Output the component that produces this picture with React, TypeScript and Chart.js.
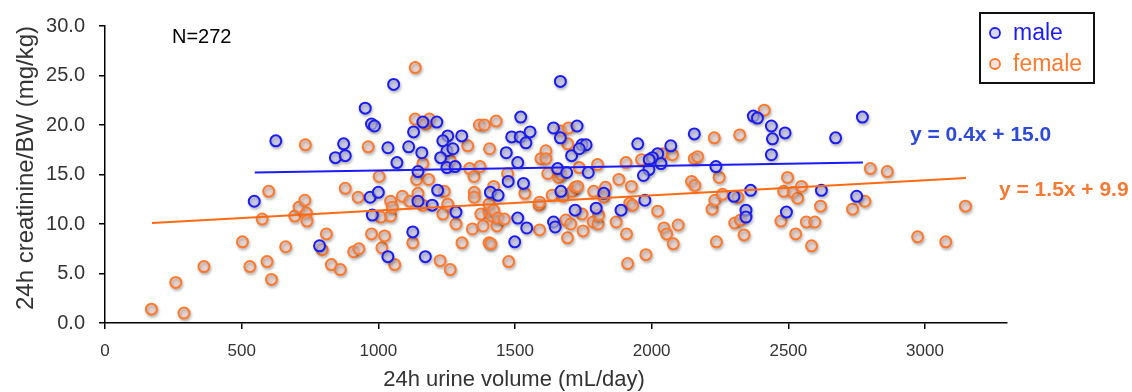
import React, { useEffect, useRef } from "react";
import { Chart, registerables } from "chart.js";

Chart.register(...registerables);

const maleX = [625, 873, 843, 879, 952, 975, 986, 1056, 1666, 1163, 1214, 1129, 1035, 1111, 1159, 1068, 1145, 1254, 1236, 1305, 1251, 1273, 1228, 1251, 1281, 1521, 1468, 1488, 1519, 1555, 1540, 1510, 1641, 1666, 1727, 1707, 1745, 1760, 1735, 1656, 1689, 1768, 2372, 2387, 2438, 2488, 2442, 2438, 2771, 2673, 2156, 1949, 2070, 2022, 2003, 1991, 2034, 2235, 1990, 1970, 546, 785, 970, 978, 1000, 1035, 1217, 1145, 1197, 1284, 1126, 1172, 1499, 1410, 1438, 1475, 1531, 1510, 1543, 1641, 1647, 1668, 1720, 1797, 1825, 1888, 1975, 2301, 2362, 2345, 2345, 2493, 2621, 2750];
const maleY = [18.4, 18.1, 16.7, 16.9, 21.7, 20.1, 19.9, 24.1, 24.4, 20.3, 20.3, 19.3, 17.7, 17.8, 17.2, 16.2, 15.3, 18.9, 18.4, 18.9, 17.4, 17.6, 16.7, 15.7, 15.8, 20.8, 17.2, 18.8, 18.8, 19.3, 18.2, 16.2, 19.7, 18.7, 19.9, 16.9, 18.0, 18.0, 17.6, 15.6, 15.2, 15.2, 20.9, 20.7, 19.9, 19.2, 18.6, 17.0, 20.8, 18.7, 19.1, 18.1, 17.9, 17.1, 16.7, 16.5, 16.1, 15.8, 15.5, 14.9, 12.3, 7.8, 12.7, 10.9, 13.2, 6.7, 13.4, 12.3, 11.9, 11.2, 9.2, 6.7, 8.2, 13.2, 12.9, 14.3, 14.1, 10.6, 9.6, 10.2, 9.7, 13.3, 11.4, 11.6, 13.1, 11.4, 12.4, 12.8, 13.4, 11.4, 10.7, 11.2, 13.4, 12.8];

const femaleX = [170, 289, 259, 362, 503, 530, 575, 593, 599, 609, 661, 694, 710, 731, 733, 737, 739, 795, 810, 828, 861, 879, 910, 926, 929, 963, 975, 1003, 1009, 1013, 1023, 1045, 1045, 1051, 1060, 1088, 1115, 1126, 1135, 1135, 1140, 1145, 1163, 1163, 1174, 1184, 1187, 1226, 1236, 1241, 1254, 1263, 1263, 1284, 1306, 1327, 1334, 1344, 1350, 1351, 1351, 1370, 1372, 1375, 1383, 1388, 1405, 1412, 1405, 1405, 1407, 1416, 1422, 1422, 1431, 1434, 1438, 1461, 1473, 1477, 1536, 1588, 1590, 1590, 1595, 1613, 1613, 1620, 1636, 1660, 1668, 1668, 1676, 1686, 1692, 1693, 1696, 1704, 1710, 1720, 1729, 1735, 1745, 1749, 1786, 1788, 1802, 1804, 1806, 1825, 1831, 1870, 1880, 1906, 1908, 1912, 1920, 1926, 1930, 1963, 1979, 2022, 2040, 2045, 2055, 2076, 2079, 2097, 2146, 2156, 2158, 2168, 2221, 2229, 2231, 2237, 2247, 2259, 2304, 2316, 2322, 2325, 2338, 2412, 2473, 2483, 2497, 2518, 2527, 2534, 2548, 2566, 2585, 2597, 2618, 2735, 2780, 2800, 2862, 2973, 3076, 3148];
const femaleY = [1.4, 1.0, 4.1, 5.7, 8.2, 5.7, 10.5, 6.2, 13.3, 4.4, 7.7, 10.8, 11.7, 12.4, 18.0, 11.1, 10.3, 7.4, 9.0, 5.9, 5.4, 13.6, 7.2, 12.7, 7.5, 17.8, 9.0, 14.8, 10.7, 7.6, 8.8, 10.8, 12.3, 11.7, 5.9, 12.8, 12.3, 8.1, 25.8, 20.6, 14.5, 13.1, 16.1, 11.9, 20.1, 14.5, 20.6, 6.3, 11.0, 13.3, 12.0, 16.4, 5.4, 10.0, 8.1, 17.9, 15.6, 9.5, 14.8, 13.2, 12.7, 20.0, 15.8, 11.0, 9.8, 20.0, 8.1, 8.0, 11.2, 12.0, 17.6, 10.8, 13.8, 11.4, 20.4, 9.8, 10.6, 10.5, 15.1, 6.2, 13.1, 11.9, 12.2, 9.4, 16.6, 17.4, 16.6, 15.1, 12.9, 14.7, 19.4, 15.0, 12.8, 10.4, 8.6, 18.1, 19.7, 10.0, 13.3, 13.7, 13.8, 15.7, 11.0, 9.3, 10.2, 13.3, 16.0, 10.0, 10.9, 12.7, 13.7, 10.2, 14.5, 16.2, 9.0, 6.0, 12.1, 13.8, 11.9, 16.5, 6.9, 11.3, 17.1, 9.6, 9.0, 17.0, 8.0, 9.9, 14.3, 16.6, 13.9, 16.8, 11.5, 18.7, 12.4, 8.2, 14.7, 13.0, 10.1, 12.7, 19.0, 10.4, 8.9, 21.5, 10.3, 13.3, 14.7, 13.2, 9.0, 12.6, 13.8, 10.2, 7.8, 10.2, 11.8, 11.5, 12.3, 15.6, 15.3, 8.7, 8.2, 11.8];

const maleFitX = [548, 2773];
const maleFitY = [15.2, 16.2];
const femaleFitX = [172, 3150];
const femaleFitY = [10.1, 14.65];

const xTicks = [0, 500, 1000, 1500, 2000, 2500, 3000];
const yTicks = [0, 5, 10, 15, 20, 25, 30];

const seriesNames = ["male", "female"];
const maleEquation = "y = 0.4x + 15.0";
const femaleEquation = "y = 1.5x + 9.9";
const sampleLabel = "N=272";
const xTitle = "24h urine volume (mL/day)";
const yTitle = "24h creatinine/BW (mg/kg)";

const FONT = '"Liberation Sans", Arial, sans-serif';
const BLUE = "#1c1cf0";
const BLUE_FILL = "rgba(195,195,235,0.65)";
const ORANGE = "#ff7a2e";
const ORANGE_FILL = "rgba(238,210,204,0.65)";

const toPts = (xs: number[], ys: number[]) => xs.map((x, i) => ({ x, y: ys[i] }));

const shadowPlugin = {
  id: "pointShadow",
  beforeDatasetDraw(chart: any, args: any) {
    const ds = chart.data.datasets[args.index];
    if (ds.type === "scatter") {
      chart.ctx.save();
      chart.ctx.shadowColor = "rgba(0,0,0,0.28)";
      chart.ctx.shadowBlur = 3;
      chart.ctx.shadowOffsetX = 1;
      chart.ctx.shadowOffsetY = 2;
    }
  },
  afterDatasetDraw(chart: any, args: any) {
    const ds = chart.data.datasets[args.index];
    if (ds.type === "scatter") chart.ctx.restore();
  },
};

const overlayPlugin = {
  id: "overlay",
  afterDraw(chart: any) {
    const ctx = chart.ctx;
    ctx.save();
    ctx.save();
    ctx.translate(26, 168);
    ctx.rotate(-Math.PI / 2);
    ctx.font = `24px ${FONT}`;
    ctx.fillStyle = "#333";
    ctx.textAlign = "center";
    ctx.textBaseline = "middle";
    ctx.fillText(yTitle, 0, 0);
    ctx.restore();
    ctx.font = `22px ${FONT}`;
    ctx.fillStyle = "#333";
    ctx.textAlign = "center";
    ctx.textBaseline = "middle";
    ctx.fillText(xTitle, 514, 380);
    ctx.font = `20px ${FONT}`;
    ctx.fillStyle = "#000";
    ctx.textAlign = "left";
    ctx.fillText(sampleLabel, 172, 37);
    ctx.lineWidth = 2;
    ctx.strokeStyle = "#111";
    ctx.strokeRect(980, 13, 114, 70);
    const items = [
      { name: seriesNames[0], c: BLUE, f: BLUE_FILL, y: 33 },
      { name: seriesNames[1], c: ORANGE, f: ORANGE_FILL, y: 64 },
    ];
    items.forEach((it) => {
      ctx.beginPath();
      ctx.arc(995, it.y, 5, 0, Math.PI * 2);
      ctx.fillStyle = it.f;
      ctx.fill();
      ctx.lineWidth = 1.8;
      ctx.strokeStyle = it.c;
      ctx.stroke();
      ctx.font = `23px ${FONT}`;
      ctx.fillStyle = it.c;
      ctx.textAlign = "left";
      ctx.textBaseline = "middle";
      ctx.fillText(it.name, 1013, it.y + 1);
    });
    ctx.font = `bold 21px ${FONT}`;
    ctx.fillStyle = "#2f4bd4";
    ctx.fillText(maleEquation, 910, 135);
    ctx.fillStyle = "#f27a34";
    ctx.fillText(femaleEquation, 999, 190);
    ctx.restore();
  },
};

export default function App() {
  const ref = useRef<HTMLCanvasElement | null>(null);
  useEffect(() => {
    if (!ref.current) return;
    const chart = new Chart(ref.current, {
      type: "scatter",
      data: {
        datasets: [
          {
            type: "line",
            label: "female fit",
            data: toPts(femaleFitX, femaleFitY),
            borderColor: "#ff6a12",
            borderWidth: 2,
            pointRadius: 0,
            fill: false,
            order: 0,
          },
          {
            type: "line",
            label: "male fit",
            data: toPts(maleFitX, maleFitY),
            borderColor: "#1a1aff",
            borderWidth: 2,
            pointRadius: 0,
            fill: false,
            order: 0,
          },
          {
            type: "scatter",
            label: seriesNames[0],
            data: toPts(maleX, maleY),
            borderColor: BLUE,
            backgroundColor: BLUE_FILL,
            pointRadius: 5.5,
            borderWidth: 2,
            order: 1,
          },
          {
            type: "scatter",
            label: seriesNames[1],
            data: toPts(femaleX, femaleY),
            borderColor: ORANGE,
            backgroundColor: ORANGE_FILL,
            pointRadius: 5.5,
            borderWidth: 2,
            order: 2,
          },
        ],
      } as any,
      options: {
        responsive: false,
        animation: false,
        layout: { padding: { left: 0, right: 125, top: 20, bottom: 0 } },
        plugins: { legend: { display: false }, tooltip: { enabled: false } },
        scales: {
          x: {
            type: "linear",
            min: 0,
            max: 3300,
            afterBuildTicks: (scale: any) => {
              scale.ticks = xTicks.map((v) => ({ value: v }));
            },
            afterFit: (scale: any) => {
              scale.height = 69;
            },
            grid: { display: true, drawOnChartArea: false, drawTicks: true, tickLength: 6, color: "#000", lineWidth: 1.5 },
            border: { display: true, color: "#000", width: 1.5 },
            ticks: {
              padding: 12,
              color: "#333",
              font: { family: FONT, size: 17 },
              callback: (v: any) => String(v),
            },
          },
          y: {
            type: "linear",
            min: 0,
            max: 30,
            afterBuildTicks: (scale: any) => {
              scale.ticks = yTicks.map((v) => ({ value: v }));
            },
            afterFit: (scale: any) => {
              scale.width = 105;
            },
            grid: { display: true, drawOnChartArea: false, drawTicks: true, tickLength: 6, color: "#000", lineWidth: 1.5 },
            border: { display: true, color: "#000", width: 1.5 },
            ticks: {
              padding: 14,
              color: "#333",
              font: { family: FONT, size: 20 },
              callback: (v: any) => Number(v).toFixed(1),
            },
          },
        },
      } as any,
      plugins: [shadowPlugin, overlayPlugin],
    });
    return () => chart.destroy();
  }, []);
  return (
    <div style={{ position: "fixed", left: 0, top: 0, width: 1132, height: 392, background: "#fff" }}>
      <canvas ref={ref} width={1132} height={392} style={{ width: 1132, height: 392 }} />
    </div>
  );
}
